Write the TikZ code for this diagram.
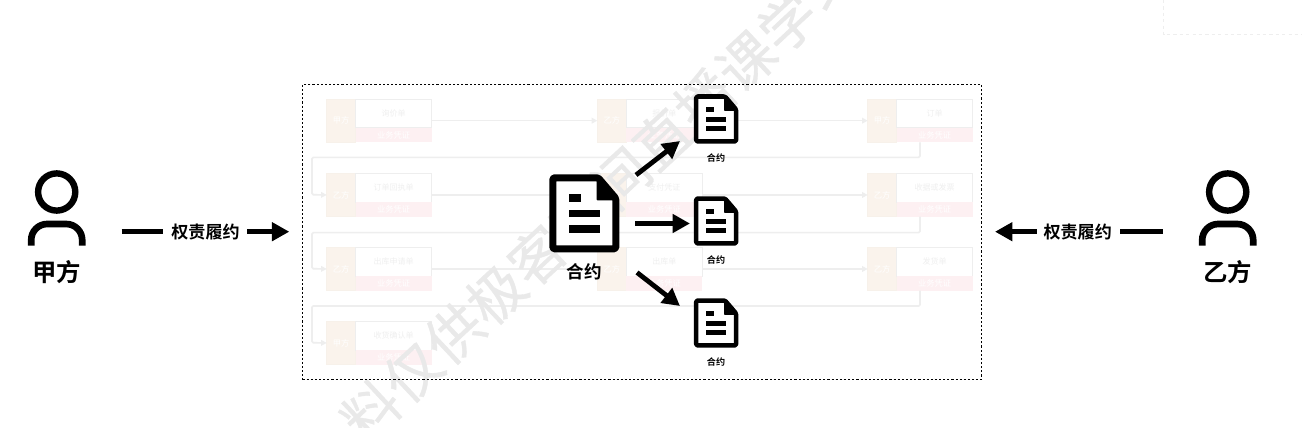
\documentclass[tikz,border=0pt]{standalone}
\usepackage{fontspec}
\usetikzlibrary{arrows.meta}
\setmainfont{Noto Sans CJK SC}[BoldFont={Noto Sans CJK SC Bold}]
\newfontfamily\wmfont{Noto Sans CJK SC}[LetterSpace=1.8,FakeBold=0.6]
\definecolor{partyfill}{HTML}{FAF3EC}
\definecolor{partyline}{HTML}{F7F1EA}
\definecolor{pinkfill}{HTML}{FDF0F2}
\definecolor{faintline}{HTML}{EEEEEE}
\definecolor{fainttext}{HTML}{EFEFEF}
\definecolor{wmark}{HTML}{E9E9E9}
\tikzset{
  x=0.75pt,y=-0.75pt,
  every node/.style={inner sep=0pt,outer sep=0pt},
  partybox/.style={anchor=north west,fill=partyfill,draw=partyline,line width=0.4pt,minimum width=21.75pt,minimum height=32.5pt,text=white,font=\fontsize{6.2pt}{6.2pt}\selectfont},
  titlebox/.style={anchor=north west,fill=white,draw=faintline,line width=0.4pt,minimum width=57pt,minimum height=21.5pt,text=fainttext,font=\fontsize{6pt}{6pt}\selectfont},
  proofbox/.style={anchor=north west,fill=pinkfill,draw=none,minimum width=57pt,minimum height=11pt,text=white,font=\fontsize{6.2pt}{6.2pt}\selectfont},
  flowline/.style={draw=faintline,line width=1.2pt,-{Triangle[length=4.2pt,width=4.2pt]}},
  returnline/.style={draw=faintline,line width=1.2pt,rounded corners=1pt,-{Triangle[length=4.2pt,width=4.2pt]}},
  bigarrow/.style={line width=3.6pt,-{Triangle[length=13pt,width=13.5pt]}},
  plainbar/.style={line width=3.6pt},
  dutytext/.style={font=\bfseries\fontsize{12.8pt}{12.8pt}\selectfont},
  partytext/.style={font=\bfseries\fontsize{18.3pt}{18.3pt}\selectfont},
  bigdoctext/.style={font=\bfseries\fontsize{13.2pt}{13.2pt}\selectfont},
  smalldoctext/.style={font=\bfseries\fontsize{6.8pt}{6.8pt}\selectfont},
}
% name, x, y, party, title
\newcommand{\billbox}[5]{%
  \node[partybox] (#1p) at (#2,#3) {#4};
  \node[titlebox] (#1t) at (#2+29,#3) {#5};
  \node[proofbox] (#1b) at (#2+29,#3+28.7) {业务凭证};
}
% x, y, scale, stroke width in pt
\newcommand{\contractdoc}[4]{%
  \begin{scope}[shift={(#1,#2)},scale=#3]
    \draw[fill=white,line width=#4,line join=round,rounded corners=1pt]
      (3.5,3.5) -- (49,3.5) -- (66.5,24) -- (66.5,74.5) -- (3.5,74.5) -- cycle;
    \fill[rounded corners=0.5pt] (47.4,0.2) -- (70,26) -- (47.4,26) -- cycle;
    \fill (19.7,20) rectangle (31.7,27.4);
    \fill (19.7,35.7) rectangle (50.7,43);
    \fill (19.7,50.7) rectangle (50.7,58.4);
  \end{scope}
}
% x centre
\newcommand{\personicon}[1]{%
  \draw[line width=4.8pt] (#1,192) circle (18.6);
  \draw[line width=5pt] (#1-25.5,245.7) -- (#1-25.5,240) arc (180:270:16) -- (#1+9.5,224) arc (270:360:16) -- (#1+25.5,245.7);
}
\begin{document}
\begin{tikzpicture}
\useasboundingbox (0,0) rectangle (1302,428);
\fill[white] (0,0) rectangle (1302,428);

% faint dashed frame at the top right
\coordinate (frameA) at (1163.5,0);
\coordinate (frameB) at (1163.5,35);
\coordinate (frameC) at (1302,35);
\draw[draw=faintline,line width=0.75pt,dash pattern=on 2.4pt off 2.4pt] (frameA) -- (frameB) -- (frameC);

% faded process
\billbox{a1}{326.7}{99}{甲方}{询价单}
\billbox{b1}{597.3}{99}{乙方}{报价单}
\billbox{c1}{867.7}{99}{甲方}{订单}
\billbox{a2}{326.7}{173.3}{乙方}{订单回执单}
\billbox{b2}{597.3}{173.3}{甲方}{支付凭证}
\billbox{c2}{867.7}{173.3}{乙方}{收据或发票}
\billbox{a3}{326.7}{247.3}{乙方}{出库申请单}
\billbox{b3}{597.3}{247.3}{乙方}{出库单}
\billbox{c3}{867.7}{247.3}{乙方}{发货单}
\billbox{a4}{326.7}{321.3}{甲方}{收货确认单}

\draw[flowline] (a1t.east |- a1p.east) -- (b1p.west);
\draw[flowline] (b1t.east |- b1p.east) -- (c1p.west);
\draw[flowline] (a2t.east |- a2p.east) -- (b2p.west);
\draw[flowline] (b2t.east |- b2p.east) -- (c2p.west);
\draw[flowline] (a3t.east |- a3p.east) -- (b3p.west);
\draw[flowline] (b3t.east |- b3p.east) -- (c3p.west);
\coordinate (ret1) at (920,157.3);
\coordinate (ret2) at (920,232.6);
\coordinate (ret3) at (920,306);
\draw[returnline] (ret1 |- c1b.south) -- (ret1) -- (312,157.3) -- (312,194.7) -- (a2p.west);
\draw[returnline] (ret2 |- c2b.south) -- (ret2) -- (312,232.6) -- (312,268.7) -- (a3p.west);
\draw[returnline] (ret3 |- c3b.south) -- (ret3) -- (312,306) -- (312,342.7) -- (a4p.west);

% watermark
\begin{scope}
\clip (0,0) rectangle (1302,428);
\node[rotate=43,text=wmark,font=\wmfont\fontsize{42pt}{42pt}\selectfont] (wm) at (600,197) {料仅供极客时间直播课学习};
\end{scope}

% dotted frame
\node[draw=black,line width=1.1pt,dash pattern=on 1.6pt off 1.5pt,anchor=north west,minimum width=509.25pt,minimum height=221.25pt,fill=none] (frame) at (302.5,84.5) {};

% people
\personicon{56.7}
\personicon{1227.7}
\node[partytext] (jia) at (56.7,272.5) {甲方};
\node[partytext] (yi) at (1227.7,272.5) {乙方};

% duties arrows
\node[dutytext] (dutyL) at (205.5,232.5) {权责履约};
\node[dutytext] (dutyR) at (1077.7,232.5) {权责履约};
\coordinate (jiaOut) at (121.7,231.7);
\coordinate (frameL) at (289.3,231.7);
\coordinate (yiOut) at (1162.7,231.7);
\coordinate (frameR) at (995,231.7);
\coordinate (dutyLa) at (163.3,231.7);
\coordinate (dutyLb) at (247.3,231.7);
\coordinate (dutyRa) at (1120,231.7);
\coordinate (dutyRb) at (1036.7,231.7);
\draw[plainbar] (jiaOut) -- (dutyLa);
\draw[bigarrow] (dutyLb) -- (frameL);
\draw[plainbar] (yiOut) -- (dutyRa);
\draw[bigarrow] (dutyRb) -- (frameR);

% contracts
\contractdoc{549.3}{174.3}{1}{5.2pt}
\contractdoc{694}{94.3}{0.633}{3.4pt}
\contractdoc{694}{196.3}{0.633}{3.4pt}
\contractdoc{694}{298.3}{0.633}{3.4pt}
\node[bigdoctext] (mainlabel) at (584,272) {合约};
\node[smalldoctext] (label1) at (716,158.3) {合约};
\node[smalldoctext] (label2) at (716,260) {合约};
\node[smalldoctext] (label3) at (716,362) {合约};

\coordinate (outA) at (636,175);
\coordinate (outB) at (635,223.5);
\coordinate (outC) at (637,272.5);
\coordinate (tipA) at (680,141);
\coordinate (tipB) at (690,223.5);
\coordinate (tipC) at (680,306);
\draw[bigarrow] (outA) -- (tipA);
\draw[bigarrow] (outB) -- (tipB);
\draw[bigarrow] (outC) -- (tipC);
\end{tikzpicture}
\end{document}
